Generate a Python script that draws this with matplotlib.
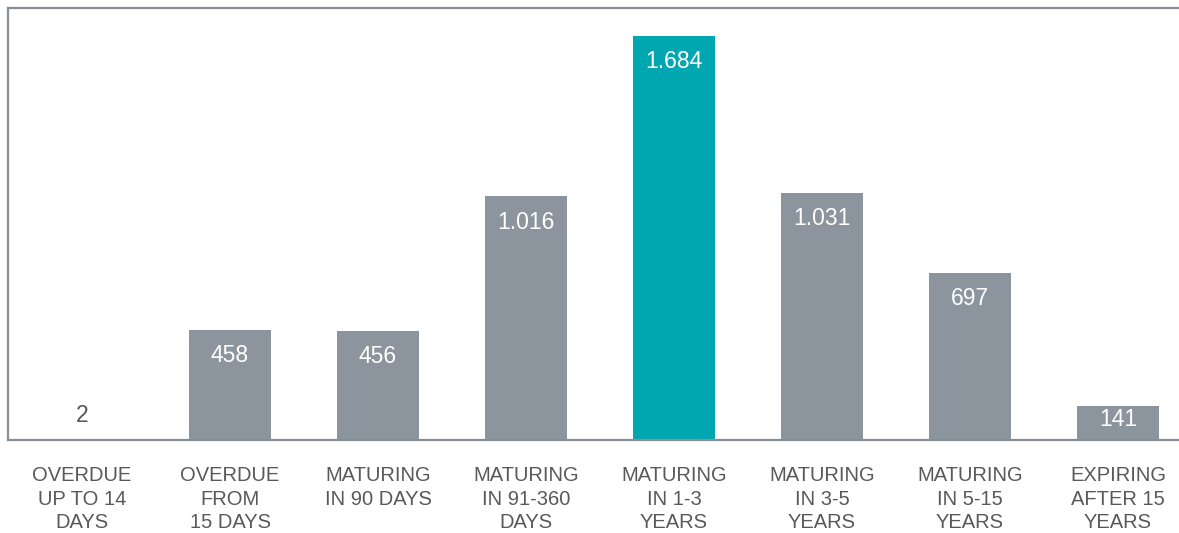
import matplotlib
matplotlib.use("Agg")
import matplotlib.pyplot as plt
from matplotlib import font_manager

categories = ["OVERDUE\nUP TO 14\nDAYS", "OVERDUE\nFROM\n15 DAYS", "MATURING\nIN 90 DAYS",
              "MATURING\nIN 91-360\nDAYS", "MATURING\nIN 1-3\nYEARS", "MATURING\nIN 3-5\nYEARS",
              "MATURING\nIN 5-15\nYEARS", "EXPIRING\nAFTER 15\nYEARS"]
values = [2, 458, 456, 1016, 1684, 1031, 697, 141]
value_labels = ["2", "458", "456", "1.016", "1.684", "1.031", "697", "141"]
highlight = 4

GRAY = "#8c959d"
TEAL = "#00a7b1"
TEXT = "#595959"

names = {f.name for f in font_manager.fontManager.ttflist}
narrow = ["Liberation Sans Narrow", "Liberation Sans"] if "Liberation Sans Narrow" in names else ["Liberation Sans"]

W, H = 1179, 533
fig = plt.figure(figsize=(W / 100, H / 100), dpi=100)
ax = fig.add_axes([8 / W, (H - 440) / H, (W - 8) / W, (440 - 8) / H])

x = list(range(len(values)))
colors = [TEAL if i == highlight else GRAY for i in x]
ax.bar(x, values, width=0.555, color=colors, zorder=2)
ax.set_xlim(-0.5, (W - 82) / 148)
ax.set_ylim(0, 1800)

for i, (v, lab) in enumerate(zip(values, value_labels)):
    if v > 300:
        ax.text(i, v - 108, lab, ha="center", va="center", color="white",
                fontsize=16.5, family=["Liberation Sans"])
    elif v > 50:
        ax.text(i, v / 2 + 15, lab, ha="center", va="center", color="white",
                fontsize=16.5, family=["Liberation Sans"])
    else:
        ax.text(i, v + 100, lab, ha="center", va="center", color=TEXT,
                fontsize=16.5, family=["Liberation Sans"])

ax.set_xticks(x)
ax.set_xticklabels(categories, fontsize=14.5, color=TEXT, family=narrow, linespacing=1.3)
ax.tick_params(axis="x", length=0, pad=19)
ax.set_yticks([])

ax.spines["right"].set_visible(False)
for s in ["top", "left", "bottom"]:
    ax.spines[s].set_color("#868e96")
    ax.spines[s].set_linewidth(1.6)

fig.savefig("out.png", dpi=100)
